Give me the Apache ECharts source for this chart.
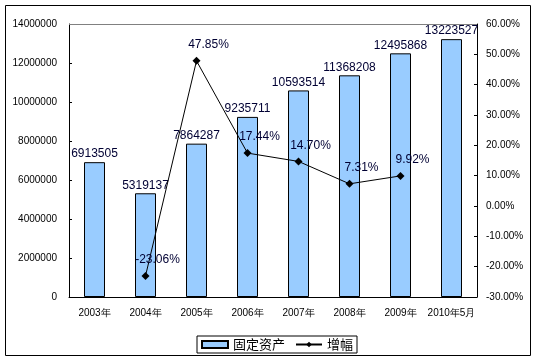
<!DOCTYPE html>
<html><head><meta charset="utf-8">
<script src="https://cdn.jsdelivr.net/npm/echarts@6/dist/echarts.min.js"></script>
<style>html,body{margin:0;padding:0;background:#fff}#c{width:538px;height:362px}</style>
</head><body><div id="c"></div>
<script>
const categories = ['2003年','2004年','2005年','2006年','2007年','2008年','2009年','2010年5月'];
const assets = [6913505, 5319137, 7864287, 9235711, 10593514, 11368208, 12495868, 13223527];
const growth = [null, -23.06, 47.85, 17.44, 14.70, 7.31, 9.92, null];
const leftTicks = {min: 0, max: 14000000, interval: 2000000};
const rightTicks = {min: -30, max: 60, interval: 10};

const chart = echarts.init(document.getElementById('c'));
const font = 'Liberation Sans, Arial, sans-serif';
chart.setOption({
  animation: false,
  graphic: [{type:'rect', shape:{x:5.5,y:5.5,width:525,height:350}, style:{fill:'none', stroke:'#000', lineWidth:1}, z:-1}],
  grid: {left: 69, right: 61, top: 24, bottom: 65, show: false},
  legend: {
    bottom: 9, left: 197,
    itemWidth: 26, itemHeight: 7, itemGap: 10,
    padding: [2, 4], borderColor: '#000', borderWidth: 1, borderRadius: 0,
    textStyle: {fontFamily: 'Noto Sans CJK SC', fontSize: 13, color: '#000'},
    data: [{name: '固定资产', icon: 'rect'}, {name: '增幅'}]
  },
  xAxis: {
    type: 'category', data: categories,
    axisLine: {lineStyle: {color: '#000'}},
    axisTick: {inside: true, length: 4, lineStyle: {color: '#000'}},
    axisLabel: {color: '#000', fontSize: 10, fontFamily: font, margin: 11, interval: 0}
  },
  yAxis: [{
    type: 'value', min: leftTicks.min, max: leftTicks.max, interval: leftTicks.interval,
    axisLine: {show: true, lineStyle: {color: '#000'}},
    axisTick: {show: true, inside: true, length: 3, lineStyle: {color: '#000'}},
    axisLabel: {color: '#000', fontSize: 10, fontFamily: font, margin: 12, formatter: v => String(v)},
    splitLine: {show: false}
  }, {
    type: 'value', min: rightTicks.min, max: rightTicks.max, interval: rightTicks.interval,
    axisLine: {show: true, lineStyle: {color: '#000'}},
    axisTick: {show: true, inside: true, length: 3, lineStyle: {color: '#000'}},
    axisLabel: {color: '#000', fontSize: 10, fontFamily: font, margin: 9,
      formatter: v => v.toFixed(2) + '%'},
    splitLine: {show: false}
  }],
  series: [{
    name: '固定资产', type: 'bar', data: assets, barWidth: 21, yAxisIndex: 0,
    itemStyle: {color: '#99CCFF', borderColor: '#000', borderWidth: 1},
    label: {show: true, position: 'top', distance: 2, color: '#000033', fontSize: 12, fontFamily: font},
    markLine: {silent: true, symbol: 'none', label: {show: false},
      lineStyle: {color: '#808080', type: 'solid', width: 1},
      data: [{yAxis: leftTicks.max}]}
  }, {
    name: '增幅', type: 'line', data: growth, yAxisIndex: 1,
    symbol: 'diamond', symbolSize: 8, connectNulls: false,
    lineStyle: {color: '#000', width: 1}, itemStyle: {color: '#000'},
    label: {show: true, position: 'top', distance: 6, offset: [12, 0], color: '#000033', fontSize: 12, fontFamily: font,
      formatter: p => p.value.toFixed(2) + '%'}
  }]
});
</script></body></html>
